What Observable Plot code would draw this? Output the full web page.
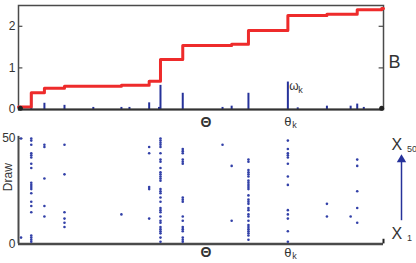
<!DOCTYPE html>
<html><head><meta charset="utf-8">
<script src="https://cdn.jsdelivr.net/npm/d3@7"></script>
<script src="https://cdn.jsdelivr.net/npm/@observablehq/plot@0.6"></script>
<style>
body{margin:0;background:#fff;}
#chart{width:416px;height:263px;overflow:hidden;}
#chart svg{display:block;}
</style></head><body><div id="chart"></div>
<script>
// atom locations (Θ, arbitrary 0–100 units) and weights ω_k
const stemTheta  = [0.5, 3.5, 7.1, 12.6, 20.5, 28.2, 30.4, 35.8, 38.5, 38.9, 45.0, 55.9, 58.4, 63.0, 73.8, 76.5, 84.5, 91.0, 92.8, 94.6, 99.5];
const stemWeight = [0.05, 0.39, 0.15, 0.10, 0.05, 0.05, 0.05, 0.16, 0.05, 0.58, 0.39, 0.05, 0.08, 0.39, 0.66, 0.04, 0.08, 0.08, 0.13, 0.05, 0.05];
// cumulative measure B (step curve)
const stepTheta = [0, 3.5, 7.1, 12.6, 28.2, 35.8, 38.9, 45.0, 58.4, 63.0, 73.8, 84.5, 92.8, 99.5, 100];
const stepB     = [0.06, 0.40, 0.51, 0.56, 0.58, 0.68, 1.20, 1.54, 1.57, 1.90, 2.26, 2.29, 2.40, 2.43, 2.43];
// draws X_1..X_50 : column location and draw indices landing there
const drawTheta = [0.7, 3.5, 7.1, 12.6, 28.2, 35.8, 38.9, 45.0, 55.9, 58.4, 63.0, 73.8, 84.5, 91.0, 92.8];
const drawIndex = [
  [50, 3],
  [50, 49, 47, 43, 42, 41, 38, 36, 29, 28, 27, 26, 24, 20, 18, 15, 4, 3, 2, 1],
  [47, 46, 31, 18, 13],
  [47, 33, 15, 12, 10, 8],
  [14],
  [46, 43, 27, 26, 12],
  [50, 49, 48, 47, 46, 43, 40, 39, 36, 34, 33, 32, 31, 30, 26, 25, 24, 22, 20, 17, 16, 15, 13, 11, 10, 8, 7, 6, 5, 3, 1],
  [45, 44, 43, 40, 39, 38, 22, 21, 20, 13, 11, 8, 7, 6, 3, 2, 1],
  [47],
  [37, 11],
  [40, 39, 35, 34, 33, 32, 30, 29, 28, 27, 26, 23, 21, 20, 19, 17, 16, 14, 13, 11, 9, 8, 7, 6, 5, 4, 2],
  [49, 45, 43, 42, 41, 38, 32, 28, 16, 14, 12, 6, 1],
  [19, 13],
  [13],
  [40, 37, 25, 17, 10]
];
const bTicks = [0, 1, 2];
const drawTicks = [0, 50];

const red = "#ee2b2b", navy = "#26329a", dotBlue = "#3240a8", axisGray = "#4a4a4a", textGray = "#333";
const font = "'Liberation Sans', Arial, Helvetica, sans-serif";

const stems = stemTheta.map((t, i) => ({theta: t, w: stemWeight[i]}));
const steps = stepTheta.map((t, i) => ({theta: t, b: stepB[i]}));
const draws = drawTheta.flatMap((t, i) => drawIndex[i].map(d => ({theta: t, draw: d})));
const thetaK = stemTheta[14];
const wK = stemWeight[14];
const mid = {lineAnchor: "middle", fill: textGray};

const topPlot = Plot.plot({
  width: 416, height: 127,
  marginLeft: 18, marginRight: 33, marginTop: 5, marginBottom: 18,
  style: {fontFamily: font, background: "white", overflow: "visible"},
  x: {domain: [0, 100], axis: null},
  y: {domain: [0, 2.5], axis: null},
  marks: [
    Plot.frame({stroke: axisGray, strokeWidth: 1.5}),
    Plot.ruleY(bTicks, {x1: 0, x2: 1.2, stroke: axisGray, strokeWidth: 1.2}),
    Plot.ruleY(bTicks.filter(d => d > 0), {x1: 98.8, x2: 100, stroke: axisGray, strokeWidth: 1.2}),
    Plot.axisY(bTicks, {tickSize: 0, tickPadding: 3, fontSize: 12, color: textGray, label: null}),
    Plot.ruleX(stems, {x: "theta", y1: 0, y2: "w", stroke: navy, strokeWidth: 2}),
    Plot.line(steps, {x: "theta", y: "b", curve: "step-after", stroke: red, strokeWidth: 3}),
    Plot.ruleY([0], {stroke: "#333", strokeWidth: 2}),
    Plot.dot([stemTheta[0], stemTheta[stemTheta.length - 1]], {x: d => d, y: () => 0.03, r: 2.5, fill: "#222"}),
    Plot.text(["B"], {...mid, text: d => d, frameAnchor: "right", dx: 17, dy: 5, fontSize: 18}),
    Plot.text(["ω"], {...mid, text: d => d, x: () => thetaK, y: () => wK, dx: 1.5, dy: 4.5, textAnchor: "start", fontSize: 12}),
    Plot.text(["k"], {...mid, text: d => d, x: () => thetaK, y: () => wK, dx: 10.5, dy: 8, textAnchor: "start", fontSize: 9}),
    Plot.text(["Θ"], {...mid, text: d => d, frameAnchor: "bottom", dx: 5, dy: 13, fontSize: 14, fontWeight: "bold"}),
    Plot.text(["θ"], {...mid, text: d => d, x: () => thetaK, frameAnchor: "bottom", dy: 12, fontSize: 13}),
    Plot.text(["k"], {...mid, text: d => d, x: () => thetaK, frameAnchor: "bottom", dx: 4.5, dy: 15.5, textAnchor: "start", fontSize: 9})
  ]
});

const botPlot = Plot.plot({
  width: 416, height: 136,
  marginLeft: 18, marginRight: 33, marginTop: 11, marginBottom: 19.6,
  style: {fontFamily: font, background: "white", overflow: "visible"},
  x: {domain: [0, 100], axis: null},
  y: {domain: [0, 50], axis: null},
  marks: [
    Plot.ruleX([0], {y1: 0, y2: 51, stroke: axisGray, strokeWidth: 2}),
    Plot.ruleY([0], {x1: 0, x2: 100, stroke: axisGray, strokeWidth: 2.5}),
    Plot.ruleY([50], {x1: 0, x2: 1.2, stroke: axisGray, strokeWidth: 1.2}),
    Plot.ruleX([100], {y1: 0, y2: 2.2, stroke: "#222", strokeWidth: 2}),
    Plot.axisY(drawTicks, {tickSize: 0, tickPadding: 3, fontSize: 12, color: textGray, label: null}),
    Plot.dot(draws, {x: "theta", y: "draw", r: 1.3, fill: dotBlue}),
    Plot.text(["Draw"], {...mid, text: d => d, frameAnchor: "left", rotate: -90, dx: -10, fontSize: 12}),
    Plot.text(["Θ"], {...mid, text: d => d, frameAnchor: "bottom", dx: 5, dy: 9, fontSize: 14, fontWeight: "bold"}),
    Plot.text(["θ"], {...mid, text: d => d, x: () => thetaK, frameAnchor: "bottom", dy: 9, fontSize: 13}),
    Plot.text(["k"], {...mid, text: d => d, x: () => thetaK, frameAnchor: "bottom", dx: 4.5, dy: 12.5, textAnchor: "start", fontSize: 9}),
    Plot.ruleX([100], {y1: 11, y2: 39, dx: 18, stroke: navy, strokeWidth: 1.5}),
    Plot.dot([100], {x: d => d, y: () => 40, dx: 18, symbol: "triangle", r: 3.5, fill: navy}),
    Plot.text(["X"], {...mid, text: d => d, frameAnchor: "top-right", dx: 18.7, dy: 6, fontSize: 16}),
    Plot.text(["50"], {...mid, text: d => d, frameAnchor: "top-right", dx: 23.5, dy: 11, textAnchor: "start", fontSize: 9}),
    Plot.text(["X"], {...mid, text: d => d, frameAnchor: "bottom-right", dx: 18.7, dy: -10, fontSize: 16}),
    Plot.text(["1"], {...mid, text: d => d, frameAnchor: "bottom-right", dx: 23.5, dy: -5.5, textAnchor: "start", fontSize: 9})
  ]
});

const chart = document.getElementById("chart");
chart.appendChild(topPlot);
chart.appendChild(botPlot);
</script>
</body></html>
